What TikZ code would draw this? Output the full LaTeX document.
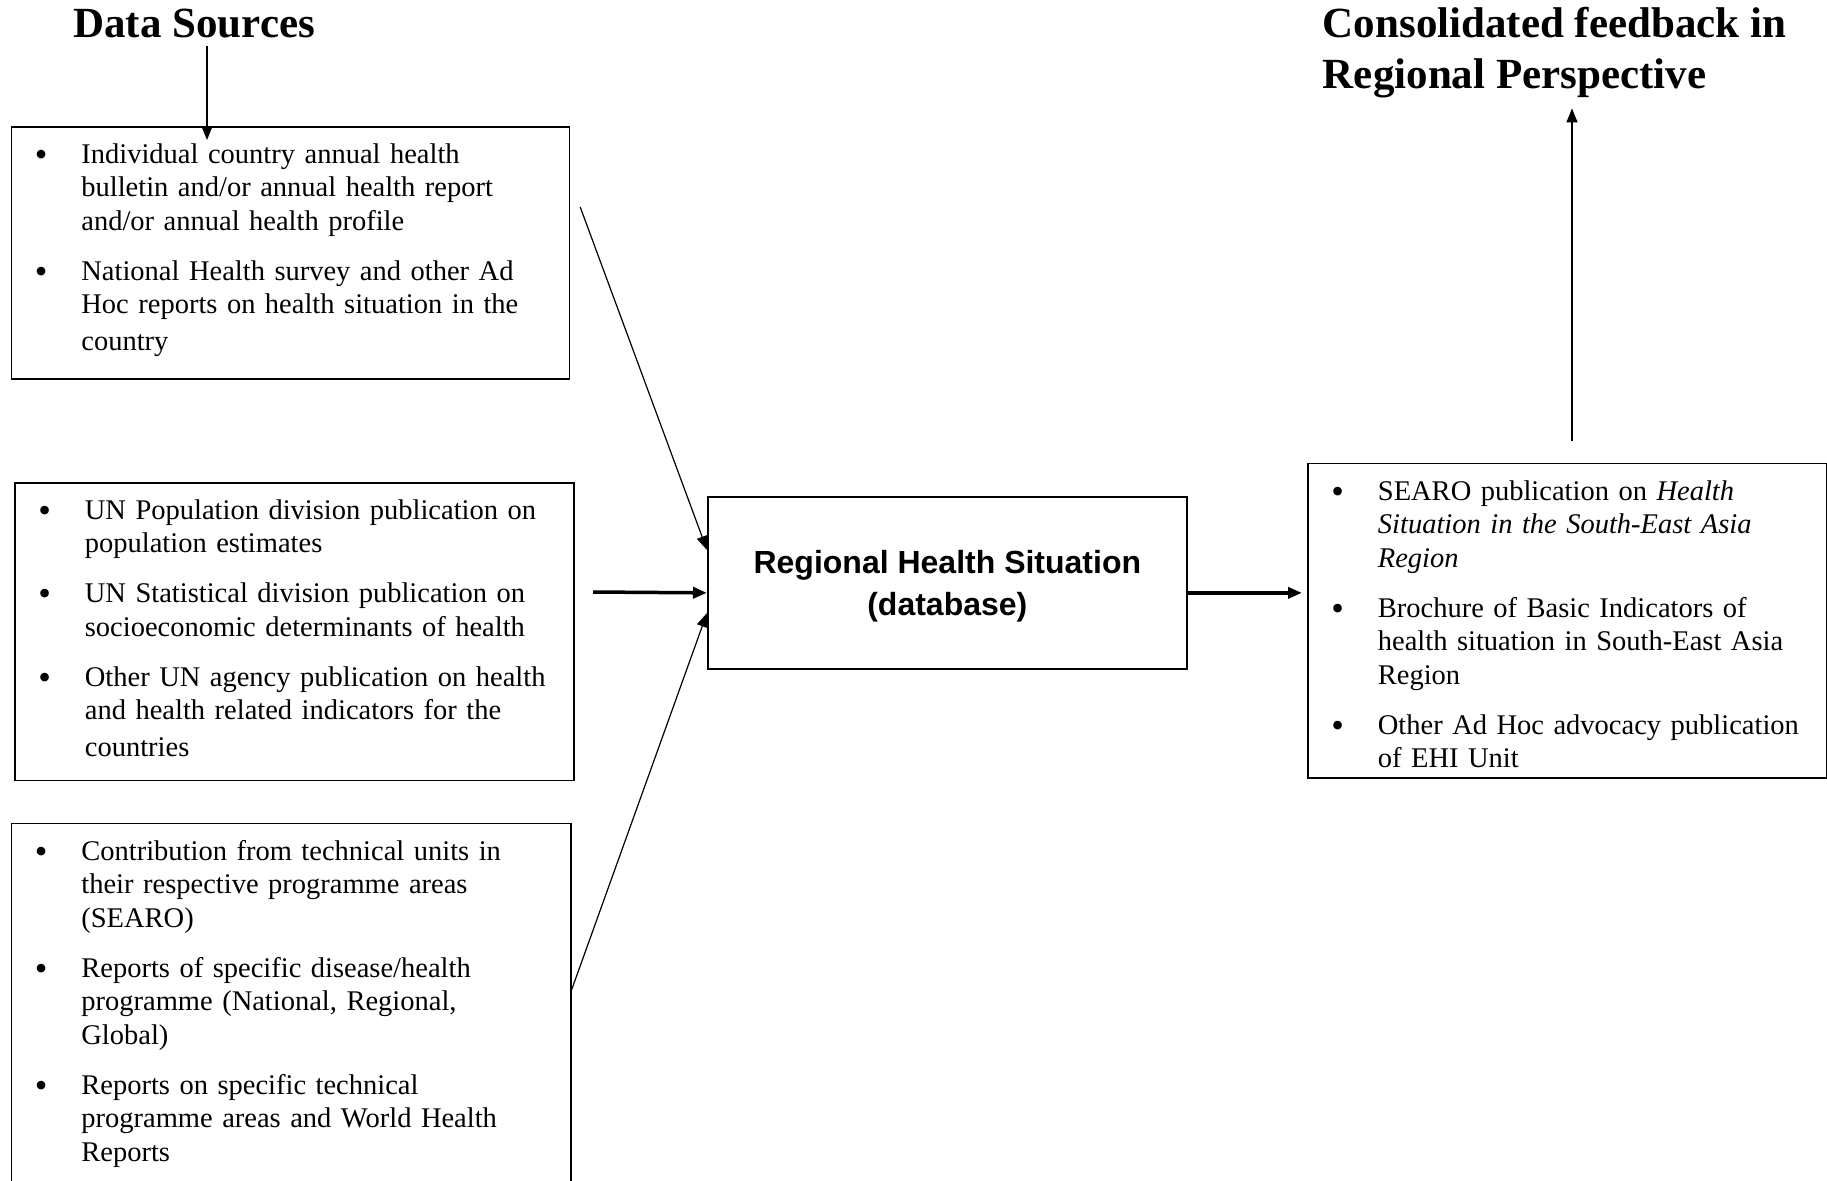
\documentclass[tikz,border=0pt]{standalone}
\usepackage{fontspec}
\setmainfont{Liberation Serif}
\newfontfamily\arialfont{Liberation Sans}
\usetikzlibrary{positioning, arrows.meta, calc}
\tikzset{>={Triangle[length=7pt, width=5.5pt]}, x=0.5pt, y=-0.5pt}

\newenvironment{dotlist}{\begin{list}{\raisebox{-1.5pt}{\fontsize{18}{18}\selectfont\textbullet}}{%
  \setlength{\leftmargin}{35.25pt}\setlength{\labelwidth}{17pt}%
  \setlength{\labelsep}{17pt}\setlength{\itemsep}{8.25pt}%
  \setlength{\parsep}{0pt}\setlength{\topsep}{0pt}\setlength{\partopsep}{0pt}}}%
  {\end{list}}

\begin{document}
\begin{tikzpicture}[
    frame/.style={draw, line width=0.85pt, anchor=north west, inner sep=0pt},
    items/.style={anchor=north west, inner sep=0pt, text width=275pt,
                  font=\fontsize{14.25}{16.75}\selectfont},
    title/.style={anchor=base west, inner sep=0pt, align=left,
                  font=\fontsize{21.5}{25.5}\selectfont\bfseries},
    feed/.style={->, line width=0.6pt},
    flow/.style={->, line width=1.75pt}]
    \useasboundingbox (0,0) rectangle (1827,1180);

    % titles
    \node[title] (ds) at (73,37.5) {Data Sources};
    \node[title] (fb) at (1322.5,88.5) {Consolidated feedback in\\Regional Perspective};

    % data sources
    \node[frame, minimum width=279pt, minimum height=126pt] (src1) at (10.5,126) {};
    \node[items] (src1t) at ($(src1.north west)+(0,3.5)$) {\begin{dotlist}
        \item Individual country annual health\\ bulletin and/or annual health report\\ and/or annual health profile
        \item National Health survey and other Ad\\ Hoc reports on health situation in the\\[1.75pt] country
    \end{dotlist}};

    \node[frame, minimum width=279.5pt, minimum height=148.75pt] (src2) at (14,482) {};
    \node[items] (src2t) at ($(src2.north west)+(0,3.5)$) {\begin{dotlist}
        \item UN Population division publication on\\ population estimates
        \item UN Statistical division publication on\\ socioeconomic determinants of health
        \item Other UN agency publication on health\\ and health related indicators for the\\[1.75pt] countries
    \end{dotlist}};

    \node[frame, minimum width=279.75pt, minimum height=200pt] (src3) at (10.5,822.6) {};
    \node[items] (src3t) at ($(src3.north west)+(0,3.5)$) {\begin{dotlist}
        \item Contribution from technical units in\\ their respective programme areas\\ (SEARO)
        \item Reports of specific disease/health\\ programme (National, Regional,\\ Global)
        \item Reports on specific technical\\ programme areas and World Health\\ Reports
    \end{dotlist}};

    % database
    \node[frame, minimum width=239.5pt, minimum height=86pt, align=center,
          font=\arialfont\bfseries\fontsize{16}{21}\selectfont] (db) at (707,496)
          {\rule{0pt}{15.1pt}Regional Health Situation\\(database)};

    % outputs
    \node[frame, minimum width=259.5pt, minimum height=157.2pt] (out) at (1307,462.6) {};
    \node[items] (outt) at ($(out.north west)+(0,3.5)$) {\begin{dotlist}
        \item SEARO publication on \textit{Health}\\ \textit{Situation in the South-East Asia}\\ \textit{Region}
        \item Brochure of Basic Indicators of\\ health situation in South-East Asia\\ Region
        \item Other Ad Hoc advocacy publication\\ of EHI Unit
    \end{dotlist}};

    % connectors
    \coordinate (o1) at ($(db.east)+(0,10)$);
    \draw[feed] ($(ds.south west)+(134,8)$) -- ($(src1.north west)+(196.5,14)$);
    \draw[feed] ($(src1.north east)+(10,81)$) -- ($(db.north west)+(0,54)$);
    \draw[flow] ($(src2.north east)+(18.5,110)$) -- ($(db.west)+(0,10)$);
    \draw[feed] ($(src3.north east)+(0,167)$) -- ($(db.north west)+(0,117)$);
    \draw[flow] (o1) -- ($(out.west |- o1)+(-5,0)$);
    \draw[feed] ($(out.north west)+(265,-22)$) -- ($(fb.south west)+(249.5,10)$);
\end{tikzpicture}
\end{document}
